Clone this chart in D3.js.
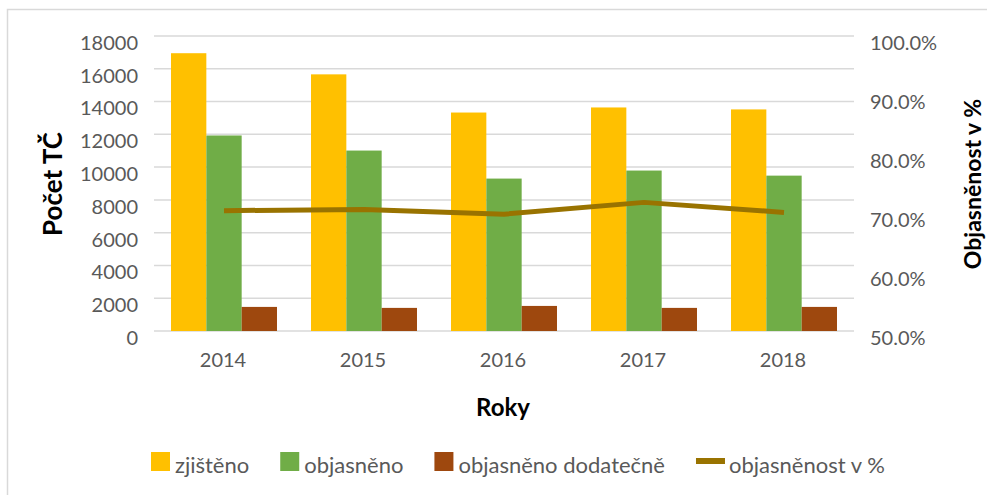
<!DOCTYPE html>
<html><head><meta charset="utf-8">
<script src="https://cdn.jsdelivr.net/npm/d3@7"></script>
<style>
body{margin:0;background:#fff;}
svg{display:block;font-family:Lato,"Open Sans",sans-serif;}
</style></head>
<body>
<svg id="c" width="987" height="495"></svg>
<script>
const years = ["2014","2015","2016","2017","2018"];
const zjisteno = [16950, 15660, 13330, 13640, 13520];
const objasneno = [11930, 11010, 9300, 9790, 9480];
const dodatecne = [1470, 1410, 1530, 1410, 1470];
const objasnenost = [0.704, 0.706, 0.698, 0.718, 0.701];
const leftTicks = [0,2000,4000,6000,8000,10000,12000,14000,16000,18000];
const rightTicks = [0.5,0.6,0.7,0.8,0.9,1.0];
const seriesNames = ["zjištěno","objasněno","objasněno dodatečně","objasněnost v %"];
const colors = ["#FFC000","#70AD47","#9E480E","#997300"];

const svg = d3.select("#c");
// chart border
svg.append("rect").attr("x",7.5).attr("y",9.5).attr("width",1100).attr("height",600)
  .attr("fill","none").attr("stroke","#d9d9d9").attr("stroke-width",1.5);

const L=154, R=854, T=36, B=331;
const x0 = d3.scaleBand().domain(years).range([L,R]).paddingInner(0.243).paddingOuter(0.1215);
const x1 = d3.scaleBand().domain([0,1,2]).range([0,x0.bandwidth()]);
const y = d3.scaleLinear().domain([0,18000]).range([B,T]);
const y2 = d3.scaleLinear().domain([0.5,1.0]).range([B,T]);

// gridlines
svg.append("g").selectAll("line").data(leftTicks).join("line")
  .attr("x1",L).attr("x2",R).attr("y1",d=>y(d)).attr("y2",d=>y(d))
  .attr("stroke","#d9d9d9").attr("stroke-width",1.5);

// left axis labels
const yAxis = d3.axisLeft(y).tickValues(leftTicks).tickSize(0).tickPadding(0).tickFormat(d3.format("d"));
const ga = svg.append("g").attr("transform",`translate(138,7)`).call(yAxis);
ga.select(".domain").remove();
ga.selectAll("text").attr("font-size",20).attr("fill","#595959").attr("font-family","Lato");

const y2Axis = d3.axisRight(y2).tickValues(rightTicks).tickSize(0).tickPadding(0).tickFormat(d3.format(".1%"));
const gb = svg.append("g").attr("transform",`translate(870,7)`).call(y2Axis);
gb.select(".domain").remove();
gb.selectAll("text").attr("font-size",20).attr("fill","#595959").attr("font-family","Lato");

// bars
const sets=[zjisteno,objasneno,dodatecne];
sets.forEach((vals,si)=>{
  svg.append("g").selectAll("rect").data(vals).join("rect")
    .attr("x",(d,i)=>x0(years[i])+x1(si))
    .attr("width",x1.bandwidth())
    .attr("y",d=>y(d)).attr("height",d=>B-y(d))
    .attr("fill",colors[si]);
});

// line
const line = d3.line().x((d,i)=>x0(years[i])+x0.bandwidth()/2).y(d=>y2(d));
svg.append("path").datum(objasnenost).attr("d",line).attr("fill","none")
  .attr("stroke",colors[3]).attr("stroke-width",5).attr("stroke-linejoin","round");

// x axis labels
const xAxis = d3.axisBottom(x0).tickSize(0).tickPadding(0);
const gx = svg.append("g").attr("transform",`translate(-1,${B+22})`).call(xAxis);
gx.select(".domain").remove();
gx.selectAll("text").attr("font-size",20).attr("fill","#595959").attr("font-family","Lato");

// titles
svg.append("text").attr("x",503).attr("y",416).attr("text-anchor","middle")
  .attr("font-size",24).attr("font-weight","bold").attr("fill","#000").text("Roky");
svg.append("text").attr("transform","translate(62,184) rotate(-90)").attr("text-anchor","middle")
  .attr("font-size",26).attr("font-weight","bold").attr("fill","#000").text("Počet TČ");
svg.append("text").attr("transform","translate(981,184) rotate(-90)").attr("text-anchor","middle")
  .attr("font-size",23).attr("font-weight","bold").attr("fill","#000").text("Objasněnost v %");

// legend
const lg = svg.append("g");
let lx = 151;
seriesNames.forEach((n,i)=>{
  if(i<3){
    lg.append("rect").attr("x",lx).attr("y",452).attr("width",19).attr("height",19).attr("fill",colors[i]);
    lx += 24;
  } else {
    lg.append("rect").attr("x",lx).attr("y",458).attr("width",29).attr("height",6).attr("fill",colors[i]);
    lx += 33;
  }
  const t = lg.append("text").attr("x",lx).attr("y",473).attr("font-size",22).attr("fill","#595959").text(n);
  lx += t.node().getComputedTextLength() + 31;
});
</script>
</body></html>
